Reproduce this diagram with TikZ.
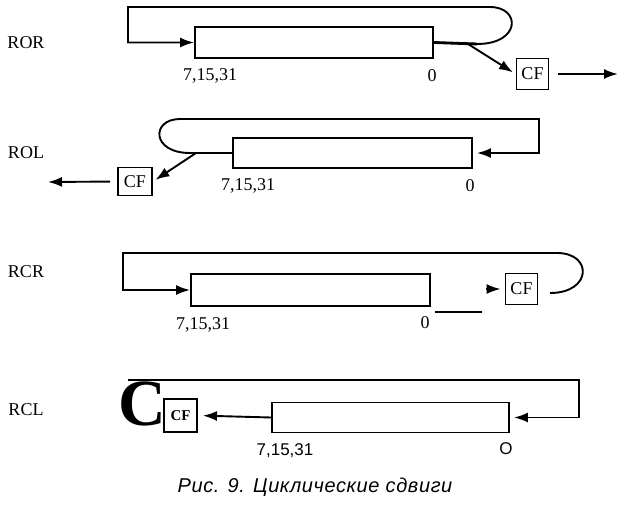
\documentclass[tikz,border=0pt]{standalone}
\usepackage{fontspec}
\setmainfont{Liberation Serif}
\setsansfont{Liberation Sans}
\newfontfamily\capfont[LetterSpace=3]{Liberation Sans}
\usetikzlibrary{arrows.meta}
\tikzset{
 lw/.style={line width=1.9pt},
 regbox/.style={draw, lw, inner sep=0pt, minimum height=31pt},
 cfbox/.style={draw, lw, fill=white, inner sep=0pt, minimum width=32pt, minimum height=31pt, font=\fontsize{18}{18}\selectfont},
 lbl/.style={font=\fontsize{18}{18}\selectfont},
 num/.style={font=\fontsize{18}{18}\selectfont},
 snum/.style={font=\sffamily\fontsize{17}{17}\selectfont},
 arr/.style={lw, -{Latex[length=14pt,width=10pt]}},
 thin line/.style={line width=1.2pt}
}
\begin{document}
\begin{tikzpicture}[x=1pt,y=-1pt]
\useasboundingbox (0,0) rectangle (638,504);

% ---------- ROR ----------
\node[regbox, minimum width=238pt] (rorReg) at (314,42.5) {};
\node[cfbox] (rorCF) at (532.5,74) {CF};
\node[lbl] (rorT) at (26,43) {ROR};
\node[num] (rorN1) at (210,76) {7,15,31};
\node[num] (rorN0) at (432,76) {0};
\coordinate (rorJ) at (477,44);
\coordinate (rorTR) at (490,7);
\coordinate (rorTL) at (128,7);
\coordinate (rorD) at (468,44);
\coordinate (rorOut) at (618,74);
\draw[arr] (rorReg.east) -- (rorJ) .. controls (521,44) and (521,7) .. (rorTR) -- (rorTL) |- (rorReg.west);
\draw[line width=2.8pt] (rorReg.east) -- (rorJ);
\draw[arr, shorten >=3pt] (rorD) -- (rorCF.west);
\draw[arr, shorten <=9pt] (rorCF.east) -- (rorOut);

% ---------- ROL ----------
\node[regbox, minimum width=239pt, minimum height=30pt] (rolReg) at (352.5,153) {};
\node[cfbox, minimum width=34pt, minimum height=28pt] (rolCF) at (135,181.5) {CF};
\node[lbl] (rolT) at (26,153) {ROL};
\node[num] (rolN1) at (248,186) {7,15,31};
\node[num] (rolN0) at (470,186) {0};
\coordinate (rolJ) at (190,153);
\coordinate (rolTL) at (180,119);
\coordinate (rolTR) at (539,119);
\coordinate (rolD) at (196,153);
\coordinate (rolOut) at (48,182);
\draw[arr, shorten >=4pt] (rolReg.west) -- (rolJ) .. controls (151,153) and (151,119) .. (rolTL) -- (rolTR) |- (rolReg.east);
\draw[arr, shorten >=3pt] (rolD) -- (rolCF.east);
\draw[arr, shorten <=7pt] (rolCF.west) -- (rolOut);

% ---------- RCR ----------
\node[regbox, minimum width=239pt, minimum height=32pt] (rcrReg) at (310.5,290) {};
\node[cfbox] (rcrCF) at (521.5,289) {CF};
\node[lbl] (rcrT) at (26,272) {RCR};
\node[num] (rcrN1) at (203,325) {7,15,31};
\node[num] (rcrN0) at (425,323) {0};
\coordinate (rcrS) at (550,293);
\coordinate (rcrTR) at (557,253);
\coordinate (rcrTL) at (123,253);
\coordinate (rcrA) at (486,289);
\coordinate (rcrL1) at (435,312);
\coordinate (rcrL2) at (482,312);
\draw[arr] (rcrS) .. controls (592,293) and (593,253) .. (rcrTR) -- (rcrTL) |- (rcrReg.west);
\draw[arr, shorten >=4pt] (rcrA) -- (rcrCF.west);
\draw[thin line] (rcrL1) -- (rcrL2);

% ---------- RCL ----------
\node[regbox, minimum width=237pt, minimum height=30pt] (rclReg) at (390.5,417.5) {};
\node[font=\bfseries\fontsize{66}{66}\selectfont, inner sep=0pt, anchor=base] (bigC) at (142,425) {C};
\node[draw, lw, fill=white, inner sep=0pt, minimum width=33pt, minimum height=33pt, font=\bfseries\fontsize{15}{15}\selectfont] (rclCF) at (180.5,415.5) {CF};
\node[lbl] (rclT) at (26,410) {RCL};
\node[snum] (rclN1) at (285,451) {7,15,31};
\node[snum] (rclN0) at (506,449) {O};
\coordinate (rclTL) at (128,380);
\coordinate (rclTR) at (579,380);
\draw[arr, shorten >=4pt] (rclTL) -- (rclTR) |- (rclReg.east);
\draw[arr, shorten >=5pt] (rclReg.west) -- (rclCF.east);

% ---------- caption ----------
\node[font=\capfont\itshape\fontsize{20}{20}\selectfont] (cap) at (315,487) {Рис. 9. Циклические сдвиги};
\end{tikzpicture}
\end{document}
